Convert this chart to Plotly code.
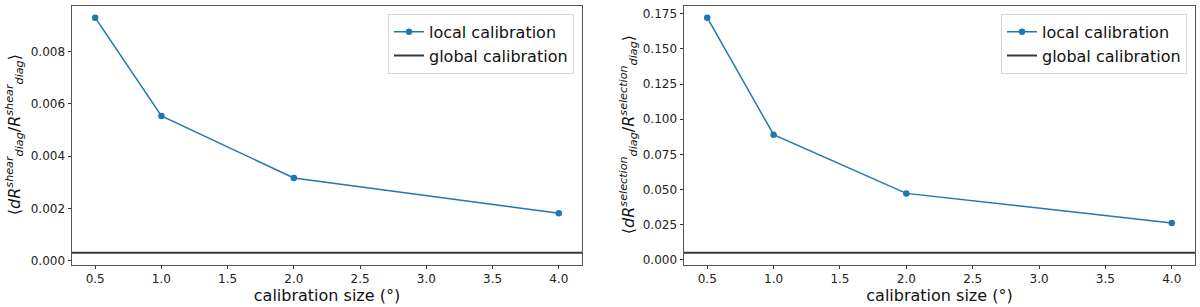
import plotly.graph_objects as go

# ---- data ----
calib_size = [0.5, 1.0, 2.0, 4.0]
shear_local = [0.00930, 0.00554, 0.00317, 0.00182]
shear_global = 0.000312
sel_local = [0.1722, 0.0890, 0.0473, 0.0263]
sel_global = 0.0051

x_ticks = [0.5, 1.0, 1.5, 2.0, 2.5, 3.0, 3.5, 4.0]

BLUE = "#1f77b4"
FONT = "DejaVu Sans"


def padded(vals, frac=0.05):
    lo, hi = min(vals), max(vals)
    m = (hi - lo) * frac
    return [lo - m, hi + m]


xr = padded(calib_size)
y1r = padded(shear_local + [shear_global])
y2r = padded(sel_local + [sel_global])

fig = go.Figure()

# left panel
fig.add_trace(go.Scatter(x=calib_size, y=shear_local, mode="lines+markers",
                         name="local calibration",
                         line=dict(color=BLUE, width=1.5),
                         marker=dict(color=BLUE, size=6.5),
                         xaxis="x", yaxis="y", legend="legend"))
fig.add_trace(go.Scatter(x=xr, y=[shear_global, shear_global], mode="lines",
                         name="global calibration",
                         line=dict(color="#3a3a3a", width=2),
                         xaxis="x", yaxis="y", legend="legend"))
# right panel
fig.add_trace(go.Scatter(x=calib_size, y=sel_local, mode="lines+markers",
                         name="local calibration",
                         line=dict(color=BLUE, width=1.5),
                         marker=dict(color=BLUE, size=6.5),
                         xaxis="x2", yaxis="y2", legend="legend2"))
fig.add_trace(go.Scatter(x=xr, y=[sel_global, sel_global], mode="lines",
                         name="global calibration",
                         line=dict(color="#3a3a3a", width=2),
                         xaxis="x2", yaxis="y2", legend="legend2"))

W, H = 1200, 307
ydom = [1 - 268 / H, 1 - 6 / H]

axis_common = dict(showline=True, mirror=True, linecolor="#555", linewidth=1,
                   ticks="outside", ticklen=3.5, tickwidth=0.8, tickcolor="#333",
                   showgrid=False, zeroline=False,
                   tickfont=dict(family=FONT, size=12, color="#222"))

xaxis_common = dict(axis_common, range=xr, tickvals=x_ticks, tickformat=".1f",
                    title=dict(text="calibration size (°)", standoff=3,
                               font=dict(family=FONT, size=16, color="#111")))

legend_common = dict(xanchor="right", yanchor="top", bgcolor="white",
                     bordercolor="#d8d8d8", borderwidth=1,
                     font=dict(family=FONT, size=16, color="#111"))

fig.update_layout(
    width=W, height=H,
    margin=dict(l=0, r=0, t=0, b=0),
    paper_bgcolor="white", plot_bgcolor="white",
    xaxis=dict(xaxis_common, domain=[72 / W, 582 / W], anchor="y"),
    yaxis=dict(axis_common, domain=ydom, range=y1r, dtick=0.002,
               tickformat=".3f", anchor="x"),
    xaxis2=dict(xaxis_common, domain=[684 / W, 1195 / W], anchor="y2"),
    yaxis2=dict(axis_common, domain=ydom, range=y2r, dtick=0.025,
                tickformat=".3f", anchor="x2"),
    legend=dict(legend_common, x=574 / W, y=1 - 14 / H),
    legend2=dict(legend_common, x=1187 / W, y=1 - 14 / H),
    annotations=[
        dict(text="⟨<i>dR</i><sup><i>shear</i></sup><sub><i>diag</i></sub>/<i>R</i>"
                  "<sup><i>shear</i></sup><sub><i>diag</i></sub>⟩",
             xref="paper", yref="paper", x=14 / W, y=1 - 137 / H,
             xanchor="center", yanchor="middle", textangle=-90, showarrow=False,
             font=dict(family=FONT, size=16, color="#111")),
        dict(text="⟨<i>dR</i><sup><i>selection</i></sup><sub><i>diag</i></sub>/<i>R</i>"
                  "<sup><i>selection</i></sup><sub><i>diag</i></sub>⟩",
             xref="paper", yref="paper", x=628 / W, y=1 - 137 / H,
             xanchor="center", yanchor="middle", textangle=-90, showarrow=False,
             font=dict(family=FONT, size=16, color="#111")),
    ],
)

fig.write_html("out.html",
               config={"displayModeBar": False},
               post_script="document.body.style.margin='0';document.body.style.padding='0';")
